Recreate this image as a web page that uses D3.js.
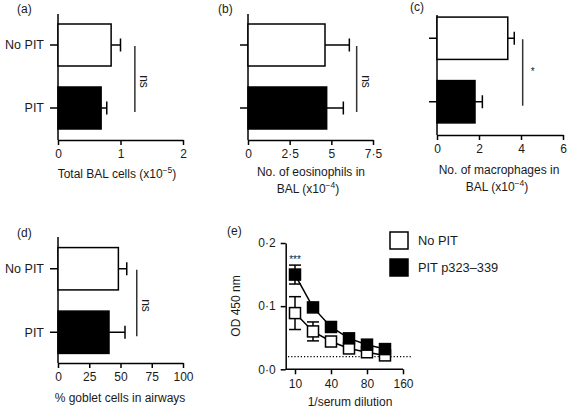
<!DOCTYPE html>
<html><head><meta charset="utf-8">
<script src="https://cdn.jsdelivr.net/npm/d3@7"></script>
<style>body{margin:0;background:#fff}svg{display:block}text{font-family:"Liberation Sans",Arial,Helvetica,sans-serif;fill:#1a1a1a}</style>
</head><body>
<svg id="c" width="568" height="411"></svg>
<script>
// ---- data ----
const groups = ["No PIT", "PIT"];
const totalBAL = [0.85, 0.69];          // x10^-5
const totalBALErr = [0.15, 0.09];
const totalBALTicks = [0, 1, 2];
const eosinophils = [4.62, 4.72];       // x10^-4
const eosinophilsErr = [1.46, 1.0];
const eosinophilsTicks = [0, 2.5, 5, 7.5];
const macrophages = [3.37, 1.81];       // x10^-4
const macrophagesErr = [0.31, 0.35];
const macrophagesTicks = [0, 2, 4, 6];
const goblet = [48.3, 40.8];            // %
const gobletErr = [6.7, 12.8];
const gobletTicks = [0, 25, 50, 75, 100];

const dilutions = [10, 20, 40, 60, 80, 120, 160];
const dilutionTicks = [10, 40, 80, 160];
const odNoPIT = [0.089, 0.060, 0.044, 0.033, 0.027, 0.022];
const odNoPITErr = [0.026, 0.015, 0.004, 0.003, 0.003, 0.002];
const odPIT = [0.150, 0.098, 0.067, 0.049, 0.039, 0.032];
const odPITErr = [0.015, 0.004, 0.003, 0.003, 0.003, 0.002];
const odTicks = [0, 0.1, 0.2];
const detectionLimit = 0.02;

const svg = d3.select("#c");
const fmt = v => String(v).replace(".", "·");

function barPanel(o) {
  const g = svg.append("g");
  const x = d3.scaleLinear().domain([0, o.max]).range([o.x0, o.x1]);
  const y = d3.scaleBand().domain(groups).range(o.band).paddingInner(1/3).paddingOuter(1/6);
  // x axis
  const xa = g.append("g").attr("transform", `translate(0,${o.axisY})`)
    .call(d3.axisBottom(x).tickValues(o.ticks).tickFormat(fmt).tickSize(5).tickSizeOuter(0).tickPadding(4));
  xa.select(".domain").attr("stroke-width", 1.5);
  xa.selectAll(".tick line").attr("stroke-width", 1.5);
  xa.selectAll("text").attr("font-size", 12).attr("fill", "#1a1a1a");
  // y axis
  g.append("line").attr("x1", o.x0).attr("x2", o.x0).attr("y1", o.lineTop).attr("y2", o.axisY)
    .attr("stroke", "#000").attr("stroke-width", 1.5);
  groups.forEach((c, i) => {
    const cy = y(c) + y.bandwidth() / 2;
    g.append("line").attr("x1", o.x0 - 8).attr("x2", o.x0).attr("y1", cy).attr("y2", cy)
      .attr("stroke", "#000").attr("stroke-width", 1.5);
    if (o.labels) g.append("text").attr("x", o.x0 - 14).attr("y", cy).attr("dy", "0.35em")
      .attr("text-anchor", "end").attr("font-size", 12.5).text(c);
    // error bar
    const xe = x(o.values[i] + o.err[i]);
    g.append("line").attr("x1", x(o.values[i])).attr("x2", xe).attr("y1", cy).attr("y2", cy)
      .attr("stroke", "#000").attr("stroke-width", 1.5);
    g.append("line").attr("x1", xe).attr("x2", xe).attr("y1", cy - 6.5).attr("y2", cy + 6.5)
      .attr("stroke", "#000").attr("stroke-width", 1.5);
    // bar
    g.append("rect").attr("x", x(0)).attr("y", y(c)).attr("width", x(o.values[i]) - x(0))
      .attr("height", y.bandwidth()).attr("fill", i === 0 ? "#fff" : "#000")
      .attr("stroke", "#000").attr("stroke-width", 1.5);
  });
  // significance
  const c0 = y(groups[0]) + y.bandwidth() / 2, c1 = y(groups[1]) + y.bandwidth() / 2;
  const sx = x(o.sigX);
  g.append("line").attr("x1", sx).attr("x2", sx).attr("y1", c0 + 1).attr("y2", c1 + 4)
    .attr("stroke", "#333").attr("stroke-width", 1.5);
  const my = (c0 + c1) / 2 + 5;
  if (o.sig === "ns") {
    g.append("text").attr("transform", `translate(${sx + 5},${my}) rotate(90)`)
      .attr("text-anchor", "middle").attr("font-size", 12).text("ns");
  } else {
    g.append("text").attr("x", sx + 8).attr("y", my).attr("font-size", 10).text(o.sig);
  }
  // title
  o.title.forEach((t, k) => {
    const tx = g.append("text").attr("x", o.titleX[k]).attr("y", o.titleY[k])
      .attr("text-anchor", "middle").attr("font-size", 12);
    tx.append("tspan").text(t[0]);
    if (t[1]) {
      tx.append("tspan").attr("dy", -5).attr("font-size", 8.5).text(t[1]);
      tx.append("tspan").attr("dy", 5).text(")");
    }
  });
  g.append("text").attr("x", o.lx).attr("y", o.ly).attr("font-size", 12).text(o.panel);
}

barPanel({panel: "(a)", lx: 17, ly: 13, x0: 58, x1: 183, max: 2, ticks: totalBALTicks,
  values: totalBAL, err: totalBALErr, band: [13.5, 139.5], lineTop: 14, axisY: 140, labels: true,
  sigX: 1.23, sig: "ns", title: [["Total BAL cells (x10", "−5"]], titleX: [117], titleY: [178]});
barPanel({panel: "(b)", lx: 218, ly: 13, x0: 248, x1: 373, max: 7.5, ticks: eosinophilsTicks,
  values: eosinophils, err: eosinophilsErr, band: [13.5, 139.5], lineTop: 14, axisY: 140, labels: false,
  sigX: 6.52, sig: "ns", title: [["No. of eosinophils in"], ["BAL (x10", "−4"]], titleX: [311, 308], titleY: [176, 193]});
barPanel({panel: "(c)", lx: 410, ly: 11, x0: 437, x1: 563, max: 6, ticks: macrophagesTicks,
  values: macrophages, err: macrophagesErr, band: [6.5, 133.5], lineTop: 15, axisY: 135, labels: false,
  sigX: 4.08, sig: "*", title: [["No. of macrophages in"], ["BAL (x10", "−4"]], titleX: [499, 497], titleY: [174, 191]});
barPanel({panel: "(d)", lx: 17, ly: 237, x0: 58, x1: 183, max: 100, ticks: gobletTicks,
  values: goblet, err: gobletErr, band: [237, 364], lineTop: 237, axisY: 363, labels: true,
  sigX: 63, sig: "ns", title: [["% goblet cells in airways"]], titleX: [120], titleY: [402]});

// ---- panel (e) ----
(function () {
  const g = svg.append("g");
  const x = d3.scalePoint().domain(dilutions).range([295, 403]);
  const y = d3.scaleLinear().domain([0, 0.2]).range([369.3, 243]);
  const x0 = 285.7;
  const xa = g.append("g").attr("transform", `translate(0,${y(0)})`)
    .call(d3.axisBottom(x).tickValues(dilutionTicks).tickSize(5).tickSizeOuter(0).tickPadding(5));
  xa.select(".domain").attr("d", `M${x0},0H${x(160)}`).attr("stroke-width", 1.5);
  xa.selectAll(".tick line").attr("stroke-width", 1.5);
  xa.selectAll("text").attr("font-size", 12).attr("fill", "#1a1a1a");
  const ya = g.append("g").attr("transform", `translate(${x0},0)`)
    .call(d3.axisLeft(y).tickValues(odTicks).tickFormat(d => d3.format(".1f")(d).replace(".", "·"))
      .tickSize(5).tickSizeOuter(0).tickPadding(5));
  ya.select(".domain").attr("stroke-width", 1.5);
  ya.selectAll(".tick line").attr("stroke-width", 1.5);
  ya.selectAll("text").attr("font-size", 12).attr("fill", "#1a1a1a");
  // detection limit
  g.append("line").attr("x1", 288).attr("x2", 412).attr("y1", y(detectionLimit)).attr("y2", y(detectionLimit))
    .attr("stroke", "#000").attr("stroke-width", 1.2).attr("stroke-dasharray", "1.2,2");
  const series = [
    {vals: odNoPIT, err: odNoPITErr, fill: "#fff"},
    {vals: odPIT, err: odPITErr, fill: "#000"}
  ];
  const pts = dilutions.slice(0, odPIT.length);
  series.forEach(s => {
    const line = d3.line().x((d, i) => x(pts[i])).y(d => y(d));
    g.append("path").attr("d", line(s.vals)).attr("fill", "none").attr("stroke", "#000").attr("stroke-width", 1.5);
    s.vals.forEach((v, i) => {
      const cx = x(pts[i]);
      const yt = y(v + s.err[i]), yb = y(v - s.err[i]);
      g.append("line").attr("x1", cx).attr("x2", cx).attr("y1", yt).attr("y2", yb).attr("stroke", "#000").attr("stroke-width", 1.5);
      [yt, yb].forEach(yy => g.append("line").attr("x1", cx - 6).attr("x2", cx + 6).attr("y1", yy).attr("y2", yy)
        .attr("stroke", "#000").attr("stroke-width", 1.5));
    });
    g.selectAll(null).data(s.vals).enter().append("rect")
      .attr("x", (d, i) => x(pts[i]) - 5.5).attr("y", d => y(d) - 5.5)
      .attr("width", 11).attr("height", 11).attr("fill", s.fill).attr("stroke", "#000").attr("stroke-width", 1.5);
  });
  g.append("text").attr("x", x(10)).attr("y", 263).attr("text-anchor", "middle").attr("font-size", 10).text("***");
  g.append("text").attr("transform", `translate(240,306) rotate(-90)`).attr("text-anchor", "middle")
    .attr("font-size", 12).text("OD 450 nm");
  g.append("text").attr("x", 350).attr("y", 406).attr("text-anchor", "middle").attr("font-size", 12).text("1/serum dilution");
  g.append("text").attr("x", 227).attr("y", 235).attr("font-size", 12).text("(e)");
  // legend
  const leg = [{label: "No PIT", fill: "#fff", y: 232}, {label: "PIT p323–339", fill: "#000", y: 259}];
  leg.forEach(l => {
    g.append("rect").attr("x", 390).attr("y", l.y).attr("width", 18).attr("height", 17)
      .attr("fill", l.fill).attr("stroke", "#000").attr("stroke-width", 1.5);
    g.append("text").attr("x", 418).attr("y", l.y + 8.5).attr("dy", "0.35em").attr("font-size", 12.8).text(l.label);
  });
})();
</script>
</body></html>
